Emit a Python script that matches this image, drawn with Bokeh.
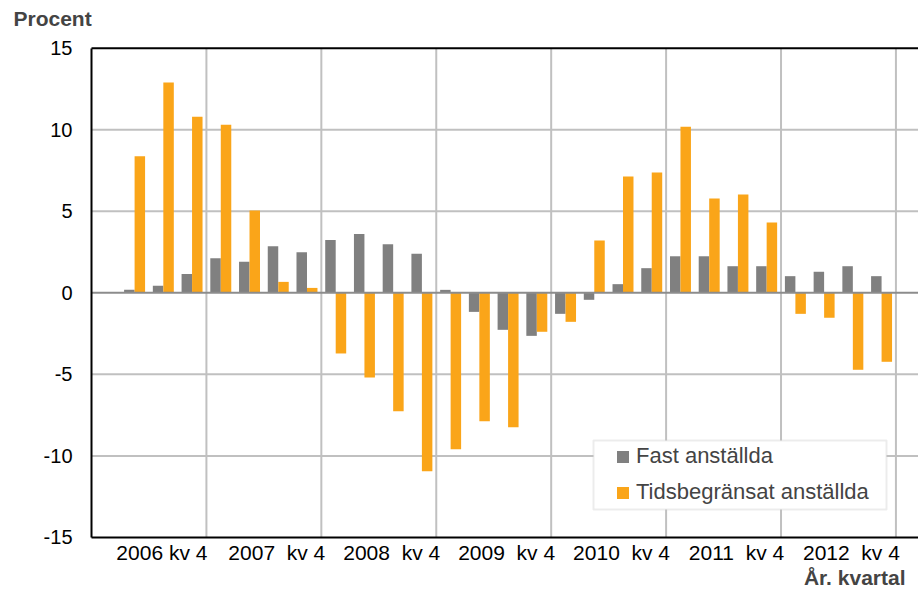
from bokeh.plotting import figure
from bokeh.models import (Range1d, FixedTicker, LinearAxis, Legend, Label,
                          LegendItem, ColumnDataSource, BoxAnnotation)
from bokeh.embed import file_html
from bokeh.resources import INLINE

# ---- data ----
quarters = ["2006 kv 2", "2006 kv 3", "2006 kv 4",
            "2007 kv 1", "2007 kv 2", "2007 kv 3", "2007 kv 4",
            "2008 kv 1", "2008 kv 2", "2008 kv 3", "2008 kv 4",
            "2009 kv 1", "2009 kv 2", "2009 kv 3", "2009 kv 4",
            "2010 kv 1", "2010 kv 2", "2010 kv 3", "2010 kv 4",
            "2011 kv 1", "2011 kv 2", "2011 kv 3", "2011 kv 4",
            "2012 kv 1", "2012 kv 2", "2012 kv 3", "2012 kv 4"]
fast = [0.18, 0.43, 1.16, 2.12, 1.90, 2.86, 2.49, 3.23, 3.60, 2.98, 2.39, 0.18,
        -1.17, -2.27, -2.64, -1.29, -0.43, 0.53, 1.51, 2.24, 2.24, 1.63, 1.63,
        1.02, 1.29, 1.63, 1.02]
tids = [8.37, 12.9, 10.8, 10.3, 5.05, 0.67, 0.30, -3.72, -5.19, -7.26, -10.94,
        -9.59, -7.87, -8.24, -2.39, -1.78, 3.21, 7.13, 7.38, 10.18, 5.78, 6.03,
        4.31, -1.29, -1.53, -4.72, -4.23]
years = [2006, 2007, 2008, 2009, 2010, 2011, 2012]
year_labels = ["2006 kv 4", "2007\u00a0 kv 4", "2008\u00a0 kv 4", "2009\u00a0 kv 4",
               "2010\u00a0 kv 4", "2011\u00a0 kv 4", "2012\u00a0 kv 4"]
series_names = ["Fast anställda", "Tidsbegränsat anställda"]
y_ticks = [-15, -10, -5, 0, 5, 10, 15]
y_tick_labels = ["-15", "-10", "-5", "0", "5", "10", "15"]
y_label = "Procent"
x_label = "År. kvartal"

FONT = "Liberation Sans"
GREY = "#808080"
ORANGE = "#FAA519"
GRID = "#C0C0C0"

W, H = 918, 591
PL, PT, PB = 91.0, 47.65, 536.95        # plot-area edges (px)
QW = 28.73                               # px per quarter
YMIN, YMAX = y_ticks[0], y_ticks[-1]
PXY = (PB - PT) / (YMAX - YMIN)          # px per percent
X_END = (W - PL) / QW

# quarter index on a continuous axis starting at 2006 kv 1
def qpos(label):
    y, _, q = label.split()
    return (int(y) - years[0]) * 4 + (int(q) - 1) + 0.5

centers = [qpos(q) for q in quarters]
bw = 0.365
src = ColumnDataSource(dict(
    q=quarters,
    xg=[c - bw / 2 for c in centers],
    xo=[c + bw / 2 for c in centers],
    fast=fast, tids=tids))

x_range = Range1d(-PL / QW, X_END)
y_range = Range1d(YMIN - (H - PB) / PXY, YMAX + PT / PXY)

p = figure(width=W, height=H, x_range=x_range, y_range=y_range,
           toolbar_location=None, output_backend="svg",
           x_axis_location=None, y_axis_location=None,
           min_border_left=0, min_border_right=0, min_border_top=0, min_border_bottom=0)
p.outline_line_color = None
p.background_fill_color = "white"
p.border_fill_color = "white"
for g in p.grid:
    g.visible = False

# grid lines limited to the plot area
vgrid = [(y - years[0] + 1) * 4 for y in years]
hgrid = [t for t in y_ticks if t not in (0, YMIN, YMAX)]
p.segment(x0=vgrid, x1=vgrid, y0=[YMIN] * len(vgrid), y1=[YMAX] * len(vgrid),
          line_color=GRID, line_width=2)
p.segment(x0=[0] * len(hgrid), x1=[X_END] * len(hgrid), y0=hgrid, y1=hgrid,
          line_color=GRID, line_width=2)

r1 = p.vbar(x="xg", top="fast", bottom=0, width=bw, source=src,
            fill_color=GREY, line_color=None)
r2 = p.vbar(x="xo", top="tids", bottom=0, width=bw, source=src,
            fill_color=ORANGE, line_color=None)

# zero line (category axis) and top border of plot area
p.segment(x0=[0], x1=[X_END], y0=[0], y1=[0], line_color="#8C8C8C", line_width=2)
p.segment(x0=[0], x1=[X_END], y0=[YMAX], y1=[YMAX], line_color="black", line_width=2)

# y axis
yax = LinearAxis(fixed_location=0, bounds=(YMIN, YMAX), ticker=FixedTicker(ticks=y_ticks),
                 major_label_overrides={t: s for t, s in zip(y_ticks, y_tick_labels)},
                 major_label_text_font=FONT, major_label_text_font_size="20px",
                 major_label_text_color="black", axis_line_color="black", axis_line_width=2,
                 major_tick_line_color=None, minor_tick_line_color=None,
                 major_tick_out=0, major_tick_in=0, major_label_standoff=19)
p.add_layout(yax, "left")

# x axis
label_pos = [(y - years[0] + 1) * 4 - 1.55 for y in years]
xax = LinearAxis(fixed_location=YMIN, bounds=(0, X_END), ticker=FixedTicker(ticks=label_pos),
                 major_label_overrides={pos: lab for pos, lab in zip(label_pos, year_labels)},
                 major_label_text_font=FONT, major_label_text_font_size="21px",
                 major_label_text_color="black", axis_line_color="black", axis_line_width=2,
                 major_tick_line_color=None, minor_tick_line_color=None,
                 major_tick_out=0, major_tick_in=0, major_label_standoff=4)
p.add_layout(xax, "below")

# axis unit labels
p.add_layout(Label(x=13, y=H - 18, x_units="screen", y_units="screen", text=y_label,
                   text_font=FONT, text_font_size="21px", text_font_style="bold",
                   text_baseline="alphabetic"))
p.add_layout(Label(x=905, y=H - 577, x_units="screen", y_units="screen", text=x_label,
                   text_font=FONT, text_font_size="21px", text_font_style="bold",
                   text_baseline="alphabetic", text_align="right"))

# legend box + legend
p.add_layout(BoxAnnotation(left=593, right=886, bottom=H - 509, top=H - 440,
                           left_units="screen", right_units="screen",
                           bottom_units="screen", top_units="screen",
                           fill_color="white", fill_alpha=1.0,
                           line_color=GRID, line_width=2, level="annotation"))
legend = Legend(items=[LegendItem(label=series_names[0], renderers=[r1]),
                       LegendItem(label=series_names[1], renderers=[r2])],
                location=(615, H - 505), padding=0, margin=0, spacing=10,
                glyph_width=15, glyph_height=15, label_standoff=6, label_height=24,
                label_text_font=FONT, label_text_font_size="22px",
                border_line_color=None, background_fill_alpha=0)
p.add_layout(legend)

open("out.html", "w").write(file_html(p, INLINE))
